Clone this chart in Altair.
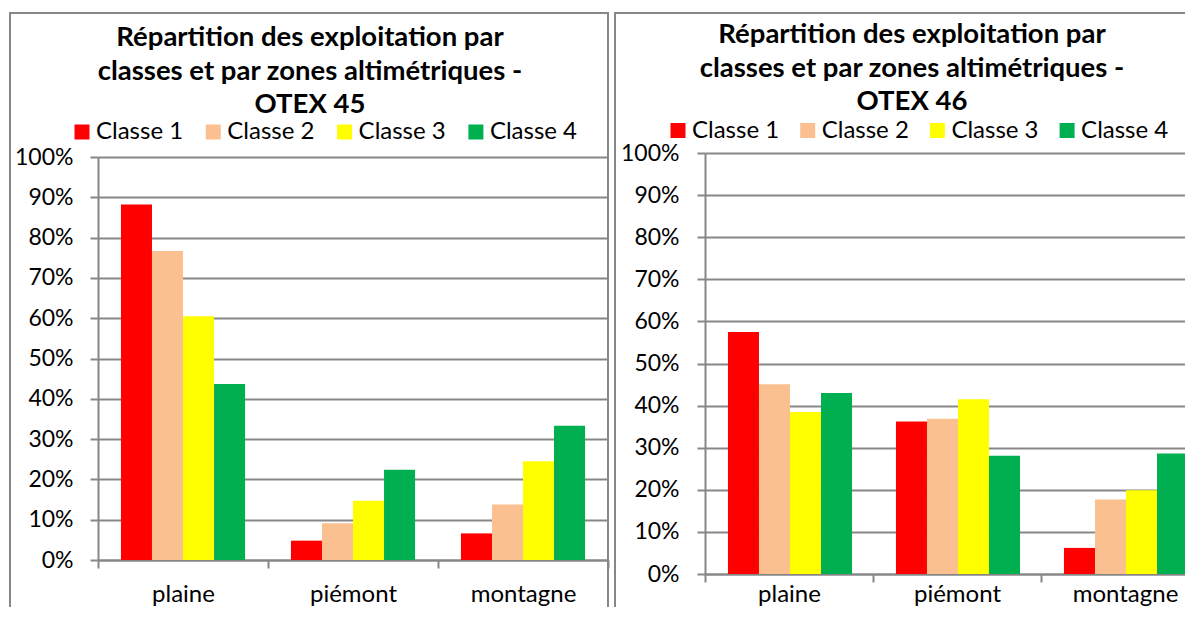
import altair as alt
import pandas as pd

zones = ["plaine", "piémont", "montagne"]
classes = ["Classe 1", "Classe 2", "Classe 3", "Classe 4"]
colors = ["#FF0000", "#FAC090", "#FFFF00", "#00B050"]
y_ticks = [0, 0.1, 0.2, 0.3, 0.4, 0.5, 0.6, 0.7, 0.8, 0.9, 1.0]

title45 = ["Répartition des exploitation par", "classes et par zones altimétriques -", "OTEX 45"]
title46 = ["Répartition des exploitation par", "classes et par zones altimétriques -", "OTEX 46"]

# OTEX 45 (values per zone: plaine, piémont, montagne)
otex45_c1 = [0.882, 0.048, 0.066]
otex45_c2 = [0.767, 0.091, 0.138]
otex45_c3 = [0.605, 0.147, 0.245]
otex45_c4 = [0.437, 0.224, 0.333]

# OTEX 46
otex46_c1 = [0.575, 0.362, 0.062]
otex46_c2 = [0.451, 0.369, 0.177]
otex46_c3 = [0.385, 0.415, 0.199]
otex46_c4 = [0.430, 0.281, 0.286]

GRAY = "#878787"
FONT = "Lato"


def build_df(series):
    rows = []
    for cls, vals in zip(classes, series):
        for z, v in zip(zones, vals):
            rows.append({"zone": z, "classe": cls, "valeur": v})
    return pd.DataFrame(rows)


def panel(df, W, H, yrange, lines, tx, ty, bx, by, bx2, lx, ly, colpad, ypad, xpad):
    one = pd.DataFrame({"k": [0]})
    border = alt.Chart(one).mark_rect(
        fill="white", fillOpacity=0, stroke=GRAY, strokeWidth=2
    ).encode(
        x=alt.value(bx), x2=alt.value(bx2), y=alt.value(by), y2=alt.value(H + 70)
    )
    bars = alt.Chart(df).mark_bar().encode(
        x=alt.X(
            "zone:N", sort=zones, title=None,
            scale=alt.Scale(paddingInner=0, paddingOuter=0),
            axis=alt.Axis(
                labelAngle=0, tickBand="extent", labelFont=FONT, labelFontSize=24,
                labelColor="black", labelBaseline="alphabetic", labelPadding=xpad,
                tickSize=8, tickColor=GRAY, tickWidth=2, domainColor=GRAY,
                domainWidth=2, grid=False,
            ),
        ),
        xOffset=alt.XOffset(
            "classe:N", sort=classes,
            scale=alt.Scale(paddingInner=0, paddingOuter=0.74),
        ),
        y=alt.Y(
            "valeur:Q", title=None, scale=alt.Scale(domain=[0, 1], range=yrange),
            axis=alt.Axis(
                format=".0%", values=y_ticks, labelFont=FONT, labelFontSize=23,
                labelColor="black", labelPadding=ypad, tickSize=8, tickColor=GRAY,
                tickWidth=2, domainColor=GRAY, domainWidth=2, grid=True,
                gridColor=GRAY, gridWidth=2,
            ),
        ),
        color=alt.Color(
            "classe:N", sort=classes,
            scale=alt.Scale(domain=classes, range=colors),
            legend=alt.Legend(
                title=None, orient="none", legendX=lx, legendY=ly,
                direction="horizontal", symbolType="square", symbolSize=225,
                symbolStrokeWidth=0, labelFont=FONT, labelFontSize=24,
                labelColor="black", labelOffset=2, columnPadding=colpad, padding=0,
            ),
        ),
    )
    title = alt.Chart(one).mark_text(
        font=FONT, fontSize=27.5, fontWeight="bold", align="center",
        baseline="alphabetic", lineHeight=33.5, color="black",
    ).encode(x=alt.value(tx), y=alt.value(ty), text=alt.value(lines))
    return alt.layer(border, bars, title).properties(width=W, height=H)


left = panel(
    build_df([otex45_c1, otex45_c2, otex45_c3, otex45_c4]),
    W=510, H=403, yrange=[403, 0], lines=title45, tx=212, ty=-111,
    bx=-88, by=-144, bx2=510, lx=-28, ly=-37, colpad=17.3, ypad=17, xpad=33,
)
right = panel(
    build_df([otex46_c1, otex46_c2, otex46_c3, otex46_c4]),
    W=504, H=417, yrange=[417, -4], lines=title46, tx=207, ty=-114,
    bx=-90, by=-144, bx2=524, lx=-39, ly=-38.5, colpad=15.7, ypad=18, xpad=19,
)

chart = alt.hconcat(left, right, spacing=5).resolve_scale(
    color="independent"
).resolve_legend(color="independent").properties(
    padding={"left": 1, "top": 4, "right": -45, "bottom": -38},
    background="white",
).configure_view(strokeWidth=0)

chart.save("out.html", embed_options={"renderer": "svg", "actions": False})
